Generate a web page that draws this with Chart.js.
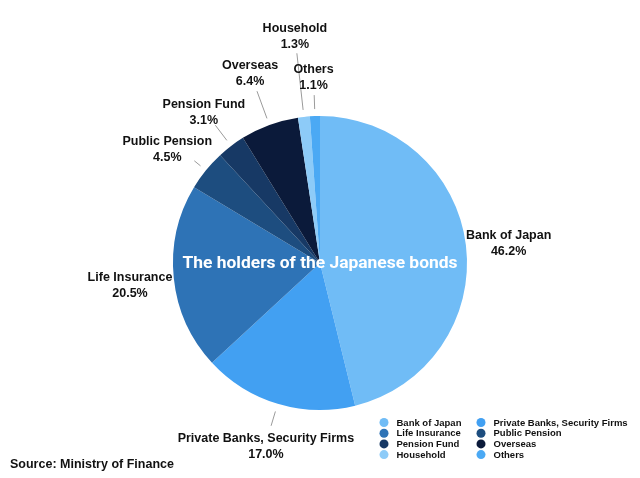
<!DOCTYPE html>
<html><head><meta charset="utf-8">
<script src="https://cdn.jsdelivr.net/npm/chart.js@4/dist/chart.umd.min.js"></script>
<style>html,body{margin:0;padding:0;background:#fff}#wrap{width:640px;height:478px;position:relative}</style>
</head><body><div id="wrap"><canvas id="c" width="640" height="478"></canvas></div>
<script>
const categories = ["Bank of Japan","Private Banks, Security Firms","Life Insurance","Public Pension","Pension Fund","Overseas","Household","Others"];
const values = [46.2, 17.0, 20.5, 4.5, 3.1, 6.4, 1.3, 1.1];
const valueLabels = ["46.2%","17.0%","20.5%","4.5%","3.1%","6.4%","1.3%","1.1%"];
const legendOrder = ["Bank of Japan","Private Banks, Security Firms","Life Insurance","Public Pension","Pension Fund","Overseas","Household","Others"];
const colors = ["#70BCF6","#42A0F2","#2E73B6","#1D4D7F","#173965","#0B1A3A","#8DCBF8","#4BA9F4"];
// label layout styles: label radius offset from pie edge, leader line start/end offsets, vertical nudges
const labelR = [43, 41, 44, 46, 45, 56, 82, 40];
const labelNudgeX = [0, 0, 0, -3, 0, 0, 0, 0];
const labelNudgeY = [3, 3, 3, 8, 2, 1.5, 1, 1];
const lineFrom = [0, 8, 7, 7, 7, 7, 7, 7];
const lineTo = [0, 23, 0, 15, 26, 36, 64, 21];

const labelPlugin = {
  id: 'labels',
  afterDraw(chart) {
    const ctx = chart.ctx;
    const meta = chart.getDatasetMeta(0);
    ctx.save();
    meta.data.forEach((arc, i) => {
      const p = arc.getProps(['x','y','startAngle','endAngle','outerRadius'], true);
      const mid = (p.startAngle + p.endAngle) / 2;
      const cx = Math.cos(mid), sy = Math.sin(mid);
      if (lineTo[i] > 0) {
        ctx.strokeStyle = '#9a9a9a';
        ctx.lineWidth = 1;
        ctx.beginPath();
        ctx.moveTo(p.x + cx * (p.outerRadius + lineFrom[i]), p.y + sy * (p.outerRadius + lineFrom[i]));
        ctx.lineTo(p.x + cx * (p.outerRadius + lineTo[i]), p.y + sy * (p.outerRadius + lineTo[i]));
        ctx.stroke();
      }
      const lx = p.x + cx * (p.outerRadius + labelR[i]) + labelNudgeX[i];
      const ly = p.y + sy * (p.outerRadius + labelR[i]) + labelNudgeY[i];
      ctx.fillStyle = '#111';
      ctx.font = 'bold 12.5px "Liberation Sans", Arial, sans-serif';
      ctx.textAlign = 'center';
      ctx.textBaseline = 'middle';
      ctx.fillText(chart.data.labels[i], lx, ly - 8);
      ctx.fillText(valueLabels[i], lx, ly + 8);
    });
    // title
    const a0 = meta.data[0];
    ctx.fillStyle = '#ffffff';
    ctx.font = 'bold 17.4px Roboto, "Open Sans", sans-serif';
    ctx.textAlign = 'center';
    ctx.textBaseline = 'middle';
    ctx.fillText('The holders of the Japanese bonds', a0.x, a0.y + 1);
    // source
    ctx.fillStyle = '#111';
    ctx.font = 'bold 12.5px "Liberation Sans", Arial, sans-serif';
    ctx.textAlign = 'left';
    ctx.fillText('Source: Ministry of Finance', 10, 465);
    // legend
    ctx.font = 'bold 9.5px "Liberation Sans", Arial, sans-serif';
    legendOrder.forEach((name, k) => {
      const idx = chart.data.labels.indexOf(name);
      const col = k % 2, row = Math.floor(k / 2);
      const dx = col === 0 ? 384 : 481;
      const dy = 422.5 + row * 10.7;
      ctx.fillStyle = colors[idx];
      ctx.beginPath();
      ctx.arc(dx, dy, 4.5, 0, Math.PI * 2);
      ctx.fill();
      ctx.fillStyle = '#111';
      ctx.fillText(name, dx + 12.5, dy + 0.5);
    });
    ctx.restore();
  }
};

new Chart(document.getElementById('c'), {
  type: 'pie',
  data: { labels: categories, datasets: [{ data: values, backgroundColor: colors, borderWidth: 0 }] },
  options: {
    responsive: false,
    animation: false,
    layout: { padding: { top: 116, bottom: 68, left: 0, right: 0 } },
    plugins: { legend: { display: false }, tooltip: { enabled: false } }
  },
  plugins: [labelPlugin]
});
</script></body></html>
